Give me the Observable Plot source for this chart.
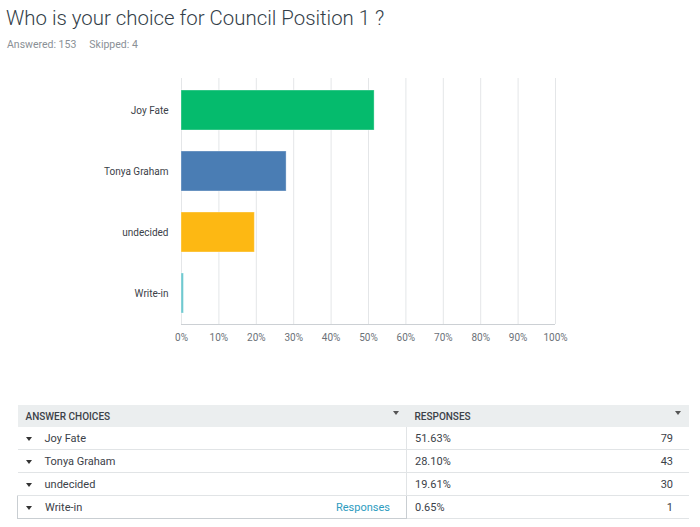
<!DOCTYPE html>
<html>
<head>
<meta charset="utf-8">
<script src="https://cdn.jsdelivr.net/npm/d3@7"></script>
<script src="https://cdn.jsdelivr.net/npm/@observablehq/plot@0.6"></script>
<style>
  body { margin: 0; background: #fff; font-family: Roboto, "Noto Sans", sans-serif; width: 700px; height: 527px; position: relative; overflow: hidden; }
  #title { position: absolute; left: 6px; top: 6px; font-size: 20.4px; color: #333e48; font-weight: 300; white-space: nowrap; }
  #sub { position: absolute; left: 7px; top: 38px; font-size: 10.5px; color: #8a9096; white-space: pre; }
  #chart { position: absolute; left: 0; top: 58px; }
  table { position: absolute; left: 17px; top: 405px; width: 672px; border-collapse: collapse; font-size: 11px; color: #3b4148; }
  th { background: #ebeeef; text-align: left; font-weight: 500; font-size: 10px; height: 22px; padding: 0 8px; }
  td { height: 22px; padding: 0 8px; border-bottom: 1px solid #e1e4e6; }
  .col1 { width: 372px; }
  .tri { display: inline-block; width: 0; height: 0; border-left: 3.5px solid transparent; border-right: 3.5px solid transparent; border-top: 4px solid #333; margin-right: 13px; vertical-align: middle; }
  .hdtri { float: right; margin-right: 0; margin-top: 0; border-top-color: #555; }
  .cnt { float: right; padding-right: 8px; }
  .link { float: right; color: #2d9cc0; padding-right: 8px; }
  .boxed { border: 1px solid #c9ced2; }
</style>
</head>
<body>
<div id="title">Who is your choice for Council Position 1 ?</div>
<div id="sub">Answered: 153     Skipped: 4</div>
<div id="chart"></div>
<table id="tbl"></table>
<script>
const choices = ["Joy Fate", "Tonya Graham", "undecided", "Write-in"];
const percents = [51.63, 28.10, 19.61, 0.65];
const counts = [79, 43, 30, 1];
const colors = ["#05bb6d", "#4a7db4", "#fdb813", "#6dc8cf"];
const xTicks = [0, 10, 20, 30, 40, 50, 60, 70, 80, 90, 100];
const headers = ["ANSWER CHOICES", "RESPONSES"];

const data = choices.map((c, i) => ({choice: c, pct: percents[i], count: counts[i]}));

const W = 700, H = 300, MT = 20, MB = 34, ML = 181, MR = 145;
const chart = Plot.plot({
  width: W,
  height: H,
  marginLeft: ML,
  marginRight: MR,
  marginTop: MT,
  marginBottom: MB,
  style: {fontFamily: "Roboto, sans-serif", fontSize: "10px", background: "transparent"},
  x: {domain: [0, 100], label: null},
  y: {domain: choices, paddingInner: 0.35, paddingOuter: 0.19, label: null},
  color: {domain: choices, range: colors},
  marks: [
    Plot.gridX(xTicks, {stroke: "#e4e6e8", strokeOpacity: 1}),
    Plot.barX(data, {x: "pct", y: "choice", fill: "choice", stroke: "#ffffff", strokeOpacity: 0.35, strokeWidth: 1}),
    Plot.axisX({ticks: xTicks, tickFormat: d => d + "%", tickSize: 0, tickPadding: 9, fill: "#6b7178", label: null}),
    Plot.axisY({tickSize: 0, tickPadding: 13, fill: "#3b4148", label: null})
  ]
});

// bottom border of the plot frame, positioned with the chart's x scale
const xs = chart.scale("x");
const sx = d3.scaleLinear(xs.domain, xs.range || [ML, W - MR]);
const yb = H - MB + 0.5;
const ns = "http://www.w3.org/2000/svg";
const ln = document.createElementNS(ns, "line");
ln.setAttribute("x1", sx(xTicks[0]));
ln.setAttribute("x2", sx(xTicks[xTicks.length - 1]));
ln.setAttribute("y1", yb);
ln.setAttribute("y2", yb);
ln.setAttribute("stroke", "#ccd0d4");
ln.setAttribute("stroke-width", "1.2");
chart.appendChild(ln);

document.getElementById("chart").appendChild(chart);

const tbl = document.getElementById("tbl");
const head = document.createElement("tr");
head.innerHTML = `<th class="col1">${headers[0]}<span class="tri hdtri"></span></th><th>${headers[1]}<span class="tri hdtri"></span></th>`;
tbl.appendChild(head);
data.forEach((d, i) => {
  const tr = document.createElement("tr");
  const last = i === data.length - 1;
  tr.innerHTML = `<td class="col1${last ? " boxed" : ""}"><span class="tri"></span>${d.choice}${last ? '<span class="link">Responses</span>' : ""}</td>` +
    `<td style="border-left:1px solid #e1e4e6">${d.pct.toFixed(2)}%<span class="cnt">${d.count}</span></td>`;
  tbl.appendChild(tr);
});
</script>
</body>
</html>
